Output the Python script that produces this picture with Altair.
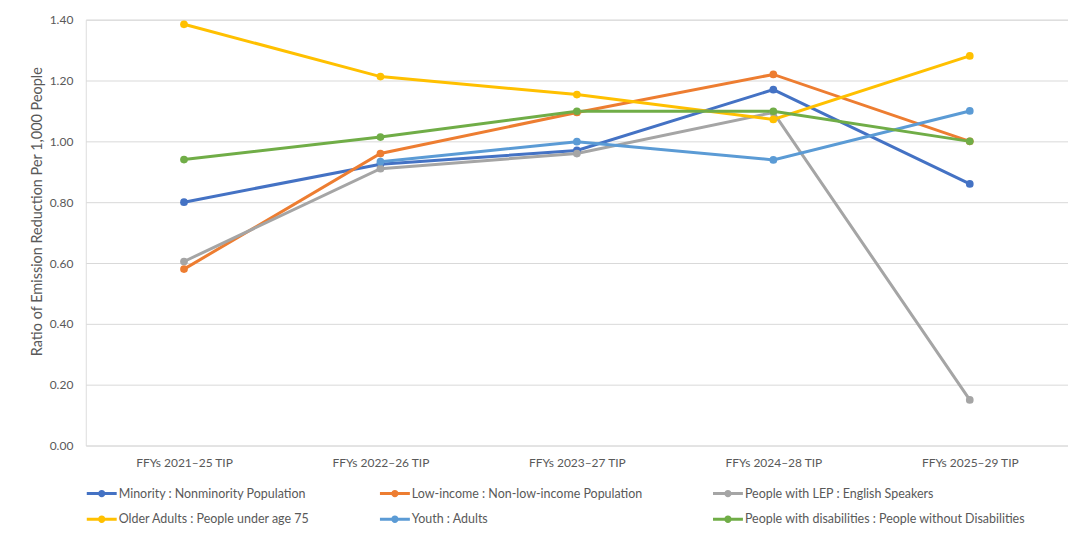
import altair as alt
import pandas as pd

periods = ["FFYs 2021–25 TIP", "FFYs 2022–26 TIP", "FFYs 2023–27 TIP",
           "FFYs 2024–28 TIP", "FFYs 2025–29 TIP"]

series_names = [
    "Minority : Nonminority Population",
    "Low-income : Non-low-income Population",
    "People with LEP : English Speakers",
    "Older Adults : People under age 75",
    "Youth : Adults",
    "People with disabilities : People without Disabilities",
]
series_colors = ["#4472C4", "#ED7D31", "#A5A5A5", "#FFC000", "#5B9BD5", "#70AD47"]

minority = [0.80, 0.925, 0.97, 1.17, 0.86]
low_income = [0.58, 0.96, 1.095, 1.22, 1.00]
lep = [0.605, 0.91, 0.96, 1.095, 0.15]
older_adults = [1.385, 1.213, 1.154, 1.072, 1.281]
youth = [None, 0.933, 0.999, 0.939, 1.10]
disabilities = [0.94, 1.014, 1.099, 1.099, 1.00]

all_values = [minority, low_income, lep, older_adults, youth, disabilities]

rows = []
for name, vals in zip(series_names, all_values):
    for p, v in zip(periods, vals):
        if v is not None:
            rows.append({"period": p, "series": name, "value": v})
df = pd.DataFrame(rows)

FONT = "Lato"
GREY = "#595959"

color_scale = alt.Scale(domain=series_names, range=series_colors)

x_enc = alt.X("period:N", sort=periods,
              scale=alt.Scale(type="point", padding=0.5),
              axis=alt.Axis(title=None, labelAngle=0, domain=False, ticks=False,
                            labelPadding=12, labelFontSize=12, labelColor=GREY,
                            labelFont=FONT, grid=False))
y_enc = alt.Y("value:Q",
              scale=alt.Scale(domain=[0, 1.4], nice=False, zero=True),
              axis=alt.Axis(title="Ratio of Emission Reduction Per 1,000 People",
                            values=[0, 0.2, 0.4, 0.6, 0.8, 1.0, 1.2, 1.4],
                            format=".2f", domain=False, ticks=False,
                            labelPadding=13, labelFontSize=12, labelColor=GREY,
                            labelFont=FONT, titleFont=FONT, titleFontSize=14.5,
                            titleColor=GREY, titleFontWeight="normal",
                            titlePadding=5, titleY=192,
                            gridColor="#D9D9D9", gridWidth=1))

symbol_path = ("M-1,-0.15L2,-0.15L2,0.15L-1,0.15Z "
               "M0.13,0A0.37,0.37 0 1,1 0.87,0A0.37,0.37 0 1,1 0.13,0Z")

legend = alt.Legend(title=None, orient="none", legendX=1, legendY=465,
                    direction="horizontal", columns=3, gridAlign="each",
                    columnPadding=70, rowPadding=9, symbolType=symbol_path,
                    symbolSize=400, symbolStrokeWidth=0,
                    symbolOpacity=1, labelOffset=12,
                    labelFont=FONT, labelFontSize=12.5,
                    labelColor=GREY, labelLimit=400)

lines = alt.Chart(df).mark_line(strokeWidth=3).encode(
    x=x_enc, y=y_enc,
    color=alt.Color("series:N", scale=color_scale, sort=series_names, legend=None),
    order=alt.Order("period:N"),
)

points = alt.Chart(df).mark_circle(size=60, opacity=1).encode(
    x=x_enc, y=y_enc,
    color=alt.Color("series:N", scale=color_scale, sort=series_names, legend=legend),
)

chart = alt.layer(lines, points).resolve_legend(color="independent").properties(
    width=985, height=427,
    autosize=alt.AutoSizeParams(type="none"),
    padding={"left": 78, "top": 11, "right": 0, "bottom": 81},
).configure_view(stroke=None).configure(background="white")

chart.save("out.html", embed_options={"renderer": "svg", "actions": False})
